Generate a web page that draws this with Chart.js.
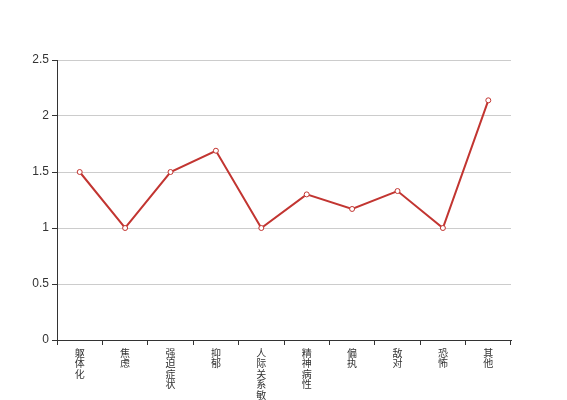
<!DOCTYPE html>
<html>
<head>
<meta charset="utf-8">
<script src="https://cdn.jsdelivr.net/npm/chart.js@4"></script>
<style>
  html, body { margin: 0; padding: 0; background: #fff; }
  #wrap { width: 567px; height: 400px; }
</style>
</head>
<body>
<div id="wrap"><canvas id="myChart" width="567" height="400"></canvas></div>
<script>
// factor names and mean scores
var categories = ['躯体化', '焦虑', '强迫症状', '抑郁', '人际关系敏感', '精神病性', '偏执', '敌对', '恐怖', '其他'];
var scores = [1.5, 1, 1.5, 1.69, 1, 1.3, 1.17, 1.33, 1, 2.14];
var yTicks = [0, 0.5, 1, 1.5, 2, 2.5];

// vertical labels: one character per line
var labels = categories.map(function (c) { return c.split(''); });

var ctx = document.getElementById('myChart').getContext('2d');
var myChart = new Chart(ctx, {
    type: 'line',
    data: {
        labels: labels,
        datasets: [{
            data: scores,
            borderColor: '#c23531',
            borderWidth: 2,
            backgroundColor: '#fff',
            pointBackgroundColor: '#fff',
            pointBorderColor: '#c23531',
            pointBorderWidth: 1,
            pointRadius: 2.5,
            tension: 0
        }]
    },
    options: {
        responsive: false,
        animation: false,
        layout: { padding: { top: 60, right: 56, left: 0, bottom: 0 } },
        plugins: { legend: { display: false }, tooltip: { enabled: false } },
        scales: {
            x: {
                offset: true,
                afterFit: function (s) { s.height = 60; },
                border: { color: '#333', width: 1 },
                grid: { offset: true, drawOnChartArea: false, drawTicks: true, tickLength: 5, tickColor: '#333' },
                ticks: {
                    maxRotation: 0, autoSkip: false, padding: 3,
                    color: '#333',
                    font: { family: '"Noto Sans CJK SC", sans-serif', size: 10, lineHeight: 1.04 }
                }
            },
            y: {
                min: yTicks[0],
                max: yTicks[yTicks.length - 1],
                afterFit: function (s) { s.width = 57; },
                afterBuildTicks: function (s) { s.ticks = yTicks.map(function (v) { return { value: v }; }); },
                border: { color: '#333', width: 1 },
                grid: { color: '#ccc', tickColor: '#333', tickLength: 5 },
                ticks: {
                    padding: 3, color: '#333',
                    callback: function (v) { return String(v); },
                    font: { family: 'Arial, "Liberation Sans", sans-serif', size: 12 }
                }
            }
        }
    }
});
</script>
</body>
</html>
